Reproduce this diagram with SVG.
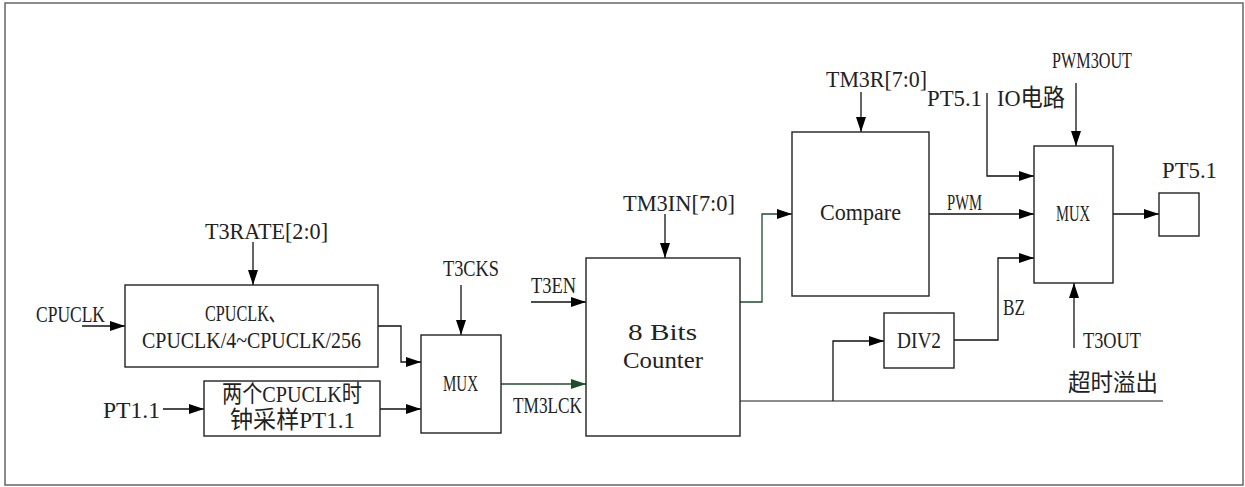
<svg xmlns="http://www.w3.org/2000/svg" width="1245" height="487" viewBox="0 0 1245 487">
<style>
  .box{fill:#fff;stroke:#222;stroke-width:1.4}
  .ln{fill:none;stroke:#111;stroke-width:1.3}
  .gr{fill:none;stroke:#1e4d2b;stroke-width:1.3}
  .gy{fill:none;stroke:#666;stroke-width:1.5}
  text{font-family:"Liberation Serif","Noto Sans CJK SC",serif;font-size:24px;fill:#222}
</style>
<defs>
  <marker id="ah" markerUnits="userSpaceOnUse" markerWidth="15" markerHeight="10" refX="15" refY="5" orient="auto">
    <path d="M0,0 L15,5 L0,10 z" fill="#000"/>
  </marker>
  <marker id="ahg" markerUnits="userSpaceOnUse" markerWidth="15" markerHeight="10" refX="15" refY="5" orient="auto">
    <path d="M0,0 L15,5 L0,10 z" fill="#1e4d2b"/>
  </marker>
</defs>
<rect x="5" y="3" width="1238" height="482" fill="#fff" stroke="#666" stroke-width="1.5"/>

<g id="connectors">
  <path class="ln" d="M253,242 V285" marker-end="url(#ah)"/>
  <path class="ln" d="M82,326 H125" marker-end="url(#ah)"/>
  <path class="ln" d="M378,326 H401 V362 H421" marker-end="url(#ah)"/>
  <path class="ln" d="M163,409 H204" marker-end="url(#ah)"/>
  <path class="ln" d="M380,409 H421" marker-end="url(#ah)"/>
  <path class="ln" d="M461,285 V335" marker-end="url(#ah)"/>
  <path class="gr" d="M501,384 H586" marker-end="url(#ahg)"/>
  <path class="ln" d="M531,302 H586" marker-end="url(#ah)"/>
  <path class="ln" d="M665,214 V258" marker-end="url(#ah)"/>
  <path class="gr" d="M740,302 H762 V214 H792" marker-end="url(#ah)"/>
  <path class="ln" d="M861,92 V132" marker-end="url(#ah)"/>
  <path class="ln" d="M929,214 H1034" marker-end="url(#ah)"/>
  <path class="ln" d="M1076,83 V146" marker-end="url(#ah)"/>
  <path class="ln" d="M987,93 V176 H1034" marker-end="url(#ah)"/>
  <path class="ln" d="M954,340 H998 V258 H1034" marker-end="url(#ah)"/>
  <path class="ln" d="M1074,348 V283" marker-end="url(#ah)"/>
  <path class="ln" d="M1113,214 H1159" marker-end="url(#ah)"/>
  <path class="gy" d="M740,401 H1163"/>
  <path class="ln" d="M833,401 V341 H884" marker-end="url(#ah)"/>
</g>

<g id="rate-div">
  <rect class="box" x="125" y="285" width="253" height="82"/>
  <text x="205" y="321" textLength="80" lengthAdjust="spacingAndGlyphs">CPUCLK、</text>
  <text x="142" y="348" textLength="219" lengthAdjust="spacingAndGlyphs">CPUCLK/4~CPUCLK/256</text>
</g>
<g id="sample">
  <rect class="box" x="204" y="381" width="176" height="55"/>
  <text x="222" y="402" textLength="140" lengthAdjust="spacingAndGlyphs">两个CPUCLK时</text>
  <text x="230" y="428" textLength="125" lengthAdjust="spacingAndGlyphs">钟采样PT1.1</text>
</g>
<g id="mux1">
  <rect class="box" x="421" y="335" width="80" height="98"/>
  <text x="443" y="391" textLength="35" lengthAdjust="spacingAndGlyphs">MUX</text>
</g>
<g id="counter">
  <rect class="box" x="586" y="258" width="154" height="178"/>
  <text x="628" y="340" textLength="69" lengthAdjust="spacingAndGlyphs">8 Bits</text>
  <text x="623" y="368" textLength="80" lengthAdjust="spacingAndGlyphs">Counter</text>
</g>
<g id="compare">
  <rect class="box" x="792" y="132" width="137" height="164"/>
  <text x="820" y="220" textLength="81" lengthAdjust="spacingAndGlyphs">Compare</text>
</g>
<g id="mux2">
  <rect class="box" x="1034" y="146" width="79" height="137"/>
  <text x="1056" y="221" textLength="34" lengthAdjust="spacingAndGlyphs">MUX</text>
</g>
<g id="div2">
  <rect class="box" x="884" y="313" width="70" height="55"/>
  <text x="897" y="348" textLength="44" lengthAdjust="spacingAndGlyphs">DIV2</text>
</g>
<g id="pin">
  <rect class="box" x="1159" y="193" width="40" height="43"/>
</g>

<g id="labels">
  <text x="205" y="239" textLength="123" lengthAdjust="spacingAndGlyphs">T3RATE[2:0]</text>
  <text x="36" y="322" textLength="69" lengthAdjust="spacingAndGlyphs">CPUCLK</text>
  <text x="103" y="418" textLength="57" lengthAdjust="spacingAndGlyphs">PT1.1</text>
  <text x="443" y="276" textLength="56" lengthAdjust="spacingAndGlyphs">T3CKS</text>
  <text x="531" y="293" textLength="45" lengthAdjust="spacingAndGlyphs">T3EN</text>
  <text x="513" y="413" textLength="69" lengthAdjust="spacingAndGlyphs">TM3LCK</text>
  <text x="623" y="211" textLength="112" lengthAdjust="spacingAndGlyphs">TM3IN[7:0]</text>
  <text x="826" y="87" textLength="101" lengthAdjust="spacingAndGlyphs">TM3R[7:0]</text>
  <text x="947" y="210" textLength="35" lengthAdjust="spacingAndGlyphs">PWM</text>
  <text x="927" y="106" textLength="55" lengthAdjust="spacingAndGlyphs">PT5.1</text>
  <text x="997" y="106" textLength="68" lengthAdjust="spacingAndGlyphs">IO电路</text>
  <text x="1052" y="68" textLength="80" lengthAdjust="spacingAndGlyphs">PWM3OUT</text>
  <text x="1162" y="178" textLength="55" lengthAdjust="spacingAndGlyphs">PT5.1</text>
  <text x="1003" y="315" textLength="22" lengthAdjust="spacingAndGlyphs">BZ</text>
  <text x="1083" y="348" textLength="58" lengthAdjust="spacingAndGlyphs">T3OUT</text>
  <text x="1068" y="391" textLength="90" lengthAdjust="spacingAndGlyphs">超时溢出</text>
</g>
</svg>
